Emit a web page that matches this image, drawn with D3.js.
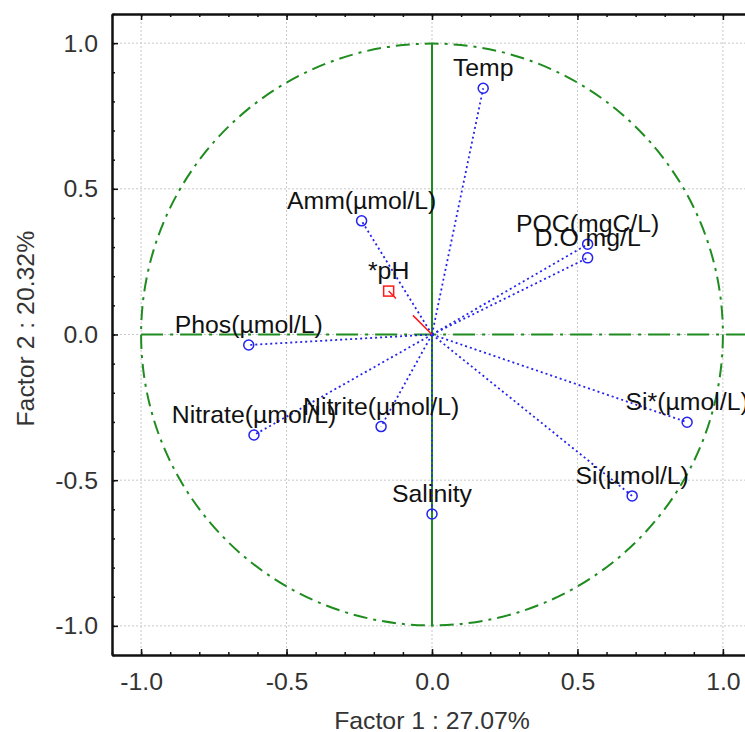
<!DOCTYPE html>
<html>
<head>
<meta charset="utf-8">
<script src="https://cdn.jsdelivr.net/npm/d3@7/dist/d3.min.js"></script>
<style>
  body { margin: 0; background: #fff; }
  svg text { font-family: "Liberation Sans", Arial, sans-serif; }
</style>
</head>
<body>
<div id="chart"></div>
<script>
// active variables (factor loadings)
var labels  = ["Temp", "Amm(µmol/L)", "POC(mgC/L)", "D.O mg/L", "Phos(µmol/L)",
               "Nitrate(µmol/L)", "Nitrite(µmol/L)", "Si*(µmol/L)", "Si(µmol/L)", "Salinity"];
var factor1 = [0.176, -0.242, 0.535, 0.535, -0.63, -0.612, -0.175, 0.877, 0.688, 0.0];
var factor2 = [0.845, 0.39, 0.31, 0.263, -0.036, -0.345, -0.316, -0.301, -0.554, -0.616];

// supplementary variable
var suppLabels = ["*pH"];
var suppF1 = [-0.149];
var suppF2 = [0.149];

var majorTicks = [-1.0, -0.5, 0.0, 0.5, 1.0];
var xTitle = "Factor 1 : 27.07%";
var yTitle = "Factor 2 : 20.32%";

var width = 745, height = 732;
var plotLeft = 112, plotTop = 14, plotRight = 752, plotBottom = 655;
var fontSize = "24.8px";

var svg = d3.select("#chart").append("svg")
  .attr("width", width)
  .attr("height", height);

var x = d3.scaleLinear().domain([-1.1, 1.1]).range([plotLeft, plotRight]);
var y = d3.scaleLinear().domain([-1.1, 1.1]).range([plotBottom, plotTop]);

var minorTicks = d3.range(-11, 12).map(function(d) { return d / 10; });
var fmt = function(d) { return d.toFixed(1); };

// grid
var grid = svg.append("g");
majorTicks.forEach(function(t) {
  grid.append("line")
    .attr("x1", x(t)).attr("x2", x(t)).attr("y1", plotTop).attr("y2", plotBottom)
    .attr("stroke", "#c8c8c8").attr("stroke-dasharray", "2,2");
  grid.append("line")
    .attr("x1", plotLeft).attr("x2", plotRight).attr("y1", y(t)).attr("y2", y(t))
    .attr("stroke", "#c8c8c8").attr("stroke-dasharray", "2,2");
});

// unit circle and zero lines
var green = "#1e8c1e";
svg.append("circle")
  .attr("cx", x(0)).attr("cy", y(0))
  .attr("r", x(1) - x(0))
  .attr("fill", "none").attr("stroke", green).attr("stroke-width", 2)
  .attr("stroke-dasharray", "14,6,3,6");

svg.append("line")
  .attr("x1", x(-1)).attr("x2", plotRight).attr("y1", y(0)).attr("y2", y(0))
  .attr("stroke", green).attr("stroke-width", 2)
  .attr("stroke-dasharray", "22,7,3,7");

svg.append("line")
  .attr("x1", x(0)).attr("x2", x(0)).attr("y1", y(1)).attr("y2", y(-1))
  .attr("stroke", green).attr("stroke-width", 2);

// axes
function styleAxis(g) {
  g.selectAll("path.domain").attr("stroke", "#111").attr("stroke-width", 2);
  g.selectAll(".tick line").attr("stroke", "#111").attr("stroke-width", 1.5);
  g.selectAll(".tick text")
    .attr("fill", "#333")
    .style("font-size", fontSize)
    .style("font-family", "'Liberation Sans', Arial, sans-serif");
}

svg.append("g").attr("transform", "translate(0," + plotBottom + ")")
  .call(d3.axisBottom(x).tickValues(minorTicks).tickSizeInner(-3).tickSizeOuter(0).tickFormat(""))
  .call(styleAxis);
svg.append("g").attr("transform", "translate(0," + plotBottom + ")")
  .call(d3.axisBottom(x).tickValues(majorTicks).tickSizeInner(-6).tickSizeOuter(0)
    .tickPadding(17).tickFormat(fmt))
  .call(styleAxis);

svg.append("g").attr("transform", "translate(0," + plotTop + ")")
  .call(d3.axisTop(x).tickValues(minorTicks).tickSizeInner(-3).tickSizeOuter(0).tickFormat(""))
  .call(styleAxis);
svg.append("g").attr("transform", "translate(0," + plotTop + ")")
  .call(d3.axisTop(x).tickValues(majorTicks).tickSizeInner(-6).tickSizeOuter(0).tickFormat(""))
  .call(styleAxis);

svg.append("g").attr("transform", "translate(" + plotLeft + ",0)")
  .call(d3.axisLeft(y).tickValues(minorTicks).tickSizeInner(-3).tickSizeOuter(0).tickFormat(""))
  .call(styleAxis);
svg.append("g").attr("transform", "translate(" + plotLeft + ",0)")
  .call(d3.axisLeft(y).tickValues(majorTicks).tickSizeInner(-6).tickSizeOuter(0)
    .tickPadding(14).tickFormat(fmt))
  .call(styleAxis);

// axis titles
svg.append("text")
  .attr("x", x(0)).attr("y", 729)
  .attr("text-anchor", "middle")
  .attr("fill", "#333").style("font-size", fontSize)
  .text(xTitle);

svg.append("text")
  .attr("transform", "translate(34," + y(0.02) + ") rotate(-90)")
  .attr("text-anchor", "middle")
  .attr("fill", "#333").style("font-size", fontSize)
  .text(yTitle);

// vectors
var blue = "#2323f0";
var vars = labels.map(function(l, i) { return { label: l, f1: factor1[i], f2: factor2[i] }; });

svg.append("g").selectAll("line")
  .data(vars).enter().append("line")
  .attr("x1", x(0)).attr("y1", y(0))
  .attr("x2", function(d) { return x(d.f1); })
  .attr("y2", function(d) { return y(d.f2); })
  .attr("stroke", blue).attr("stroke-width", 1.8)
  .attr("stroke-dasharray", "2,3");

svg.append("g").selectAll("circle")
  .data(vars).enter().append("circle")
  .attr("cx", function(d) { return x(d.f1); })
  .attr("cy", function(d) { return y(d.f2); })
  .attr("r", 5)
  .attr("fill", "none").attr("stroke", blue).attr("stroke-width", 1.5);

svg.append("g").selectAll("text")
  .data(vars).enter().append("text")
  .attr("x", function(d) { return x(d.f1); })
  .attr("y", function(d) { return y(d.f2) - 12; })
  .attr("text-anchor", "middle")
  .attr("fill", "#111").style("font-size", fontSize)
  .text(function(d) { return d.label; });

// supplementary variable
var supp = suppLabels.map(function(l, i) { return { label: l, f1: suppF1[i], f2: suppF2[i] }; });

svg.append("g").selectAll("line")
  .data(supp).enter().append("line")
  .attr("x1", x(0)).attr("y1", y(0))
  .attr("x2", function(d) { return x(d.f1); })
  .attr("y2", function(d) { return y(d.f2); })
  .attr("stroke", "#ff1a1a").attr("stroke-width", 1.5)
  .attr("stroke-dasharray", "27,24");

svg.append("g").selectAll("rect")
  .data(supp).enter().append("rect")
  .attr("x", function(d) { return x(d.f1) - 5; })
  .attr("y", function(d) { return y(d.f2) - 5; })
  .attr("width", 10).attr("height", 10)
  .attr("fill", "none").attr("stroke", "#ff1a1a").attr("stroke-width", 1.5);

svg.append("g").selectAll("text")
  .data(supp).enter().append("text")
  .attr("x", function(d) { return x(d.f1); })
  .attr("y", function(d) { return y(d.f2) - 12; })
  .attr("text-anchor", "middle")
  .attr("fill", "#111").style("font-size", fontSize)
  .text(function(d) { return d.label; });
</script>
</body>
</html>
